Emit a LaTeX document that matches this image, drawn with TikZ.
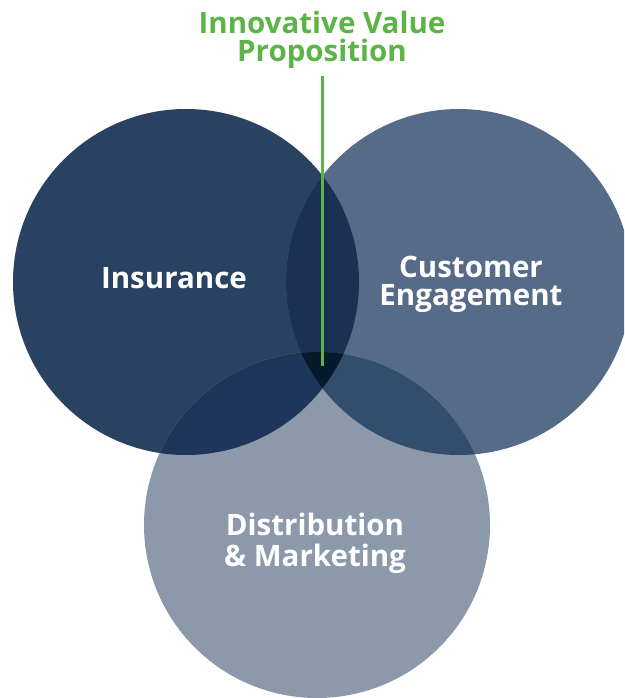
\documentclass[tikz,border=0pt]{standalone}
\usepackage{fontspec}
\setmainfont{Open Sans}
\usepackage{tikz}
\usetikzlibrary{positioning}
\definecolor{insblue}{HTML}{2A4262}
\definecolor{custblue}{HTML}{566B87}
\definecolor{distblue}{HTML}{8C99AB}
\definecolor{icblue}{HTML}{1B3152}
\definecolor{idblue}{HTML}{1E3659}
\definecolor{cdblue}{HTML}{334D6D}
\definecolor{coreblue}{HTML}{061A2C}
\definecolor{ivpgreen}{HTML}{5DB446}
\tikzstyle{ring} = [circle, inner sep = 0pt, minimum size = 346pt]
\tikzstyle{caption} = [text = white, font = \bfseries\fontsize{29.5}{28}\selectfont, align = center]
\tikzstyle{title} = [text = ivpgreen, font = \bfseries\fontsize{29.5}{28}\selectfont, align = center]
\tikzstyle{line} = [draw, ivpgreen, line width = 3pt]

\begin{document}
\begin{tikzpicture}[x=1pt, y=-1pt]
			\clip (0,0) rectangle (624,698);
			\node [ring, fill=insblue] (ins) at (186, 282) {};
			\node [ring, fill=custblue] (cust) at (459, 282) {};
			\node [ring, fill=distblue] (dist) at (317, 525) {};
			
			\begin{scope}
				\clip (ins.center) circle [radius=173pt];
				\fill [icblue] (cust.center) circle [radius=173pt];
				\fill [idblue] (dist.center) circle [radius=173pt];
			\end{scope}
			\begin{scope}
				\clip (cust.center) circle [radius=173pt];
				\fill [cdblue] (dist.center) circle [radius=173pt];
				\clip (ins.center) circle [radius=173pt];
				\fill [coreblue] (dist.center) circle [radius=173pt];
			\end{scope}
			
			\node [caption] (inslabel) at (174, 278) {Insurance};
			\node [caption] (custlabel) at (471, 284) {Customer\\Engagement};
			\node [caption, font=\bfseries\fontsize{29.5}{31}\selectfont] (distlabel) at (315, 543) {Distribution\\\& Marketing};
			
			\node [title, inner sep = 0pt] (ivp) at (322, 40) {Innovative Value\\Proposition};
			\coordinate (core) at (322, 366);
			\path [line] (ivp.south) ++(0, 7) -- (core);
		\end{tikzpicture}
\end{document}
